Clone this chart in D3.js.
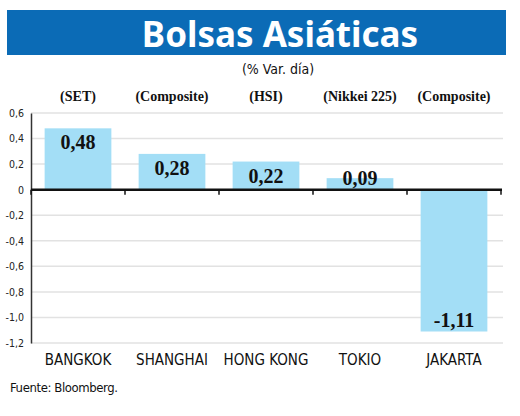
<!DOCTYPE html>
<html>
<head>
<meta charset="utf-8">
<script src="https://cdn.jsdelivr.net/npm/d3@7"></script>
<style>
  body { margin: 0; background: #fff; }
  svg { display: block; }
</style>
</head>
<body>
<div id="wrapper"></div>
<script>
// data
const cities = ["BANGKOK", "SHANGHAI", "HONG KONG", "TOKIO", "JAKARTA"];
const indexNames = ["(SET)", "(Composite)", "(HSI)", "(Nikkei 225)", "(Composite)"];
const changes = [0.48, 0.28, 0.22, 0.09, -1.11];
const yTicks = [0.6, 0.4, 0.2, 0, -0.2, -0.4, -0.6, -0.8, -1.0, -1.2];

const width = 520;
const height = 416;
const margin = { top: 113, right: 19, bottom: 73, left: 31 };
const boundedWidth = width - margin.left - margin.right;
const boundedHeight = height - margin.top - margin.bottom;

const svg = d3.select("#wrapper").append("svg")
  .attr("width", width)
  .attr("height", height);

// title banner
svg.append("rect")
  .attr("x", 7).attr("y", 10)
  .attr("width", 499).attr("height", 45)
  .attr("fill", "#0b6bb6");
svg.append("text")
  .attr("x", 280).attr("y", 47)
  .attr("text-anchor", "middle")
  .attr("fill", "#fff")
  .style("font-family", "'Noto Sans', sans-serif")
  .style("font-weight", "bold")
  .style("font-size", "35px")
  .text("Bolsas Asiáticas");
svg.append("text")
  .attr("x", 278).attr("y", 74)
  .attr("text-anchor", "middle")
  .attr("fill", "#111")
  .style("font-family", "'DejaVu Sans', sans-serif")
  .style("font-stretch", "condensed")
  .style("font-size", "14px")
  .text("(% Var. día)");

const bounds = svg.append("g")
  .attr("transform", `translate(${margin.left},${margin.top})`);

// scales
const xScale = d3.scaleBand()
  .domain(cities)
  .range([0, boundedWidth])
  .paddingInner(0.29)
  .paddingOuter(0.145);

const yScale = d3.scaleLinear()
  .domain([-1.2, 0.6])
  .range([boundedHeight, 0]);

const fmt = v => d3.format(".2f")(v).replace(".", ",").replace("−", "-");
const tickFmt = v => v === 0 ? "0" : d3.format(".1f")(v).replace(".", ",").replace("−", "-");

// gridlines
bounds.append("g")
  .selectAll("line")
  .data(yTicks.filter(d => d !== 0))
  .join("line")
  .attr("x1", 0).attr("x2", boundedWidth + 2)
  .attr("y1", d => yScale(d)).attr("y2", d => yScale(d))
  .attr("stroke", "#e2e2e2")
  .attr("stroke-width", 1.5);

// y axis
const yAxis = bounds.append("g")
  .call(d3.axisLeft(yScale).tickValues(yTicks).tickSize(0).tickPadding(7).tickFormat(tickFmt));
yAxis.select(".domain").attr("stroke", "#333").attr("stroke-width", 1.5);
yAxis.selectAll("text")
  .attr("fill", "#222")
  .style("font-family", "'DejaVu Sans', sans-serif")
  .style("font-stretch", "condensed")
  .style("font-size", "10.5px");

// bars
bounds.append("g")
  .selectAll("rect")
  .data(changes)
  .join("rect")
  .attr("x", (d, i) => xScale(cities[i]))
  .attr("y", d => yScale(Math.max(0, d)))
  .attr("width", xScale.bandwidth())
  .attr("height", d => Math.abs(yScale(d) - yScale(0)))
  .attr("fill", "#a3def6");

// zero axis with ticks at category boundaries
const zeroAxis = bounds.append("g")
  .attr("transform", `translate(0,${yScale(0)})`);
zeroAxis.append("line")
  .attr("x1", 0).attr("x2", boundedWidth + 1)
  .attr("stroke", "#111").attr("stroke-width", 2.5);
const step = xScale.step();
zeroAxis.selectAll(".tk")
  .data(d3.range(cities.length + 1))
  .join("line")
  .attr("class", "tk")
  .attr("x1", i => i * step).attr("x2", i => i * step)
  .attr("y1", 0).attr("y2", 5)
  .attr("stroke", "#111").attr("stroke-width", 1.5);

// value labels
bounds.append("g")
  .selectAll("text")
  .data(changes)
  .join("text")
  .attr("x", (d, i) => xScale(cities[i]) + xScale.bandwidth() / 2)
  .attr("y", d => d >= 0 ? Math.min(yScale(d) + 21, yScale(0) - 5) : yScale(d) - 5)
  .attr("text-anchor", "middle")
  .attr("fill", "#111")
  .style("font-family", "'Liberation Serif', serif")
  .style("font-weight", "bold")
  .style("font-size", "20px")
  .text(fmt);

// index names on top
svg.append("g")
  .selectAll("text")
  .data(indexNames)
  .join("text")
  .attr("x", (d, i) => margin.left + xScale(cities[i]) + xScale.bandwidth() / 2)
  .attr("y", 101)
  .attr("text-anchor", "middle")
  .attr("fill", "#111")
  .style("font-family", "'Liberation Sans Narrow', 'Liberation Serif', serif")
  .style("font-weight", "bold")
  .style("font-size", "14px")
  .text(d => d);

// category labels
svg.append("g")
  .selectAll("text")
  .data(cities)
  .join("text")
  .attr("x", d => margin.left + xScale(d) + xScale.bandwidth() / 2)
  .attr("y", 365)
  .attr("text-anchor", "middle")
  .attr("fill", "#111")
  .style("font-family", "'DejaVu Sans', sans-serif")
  .style("font-stretch", "condensed")
  .style("font-size", "15px")
  .text(d => d);

// source
svg.append("text")
  .attr("x", 10).attr("y", 392)
  .attr("fill", "#111")
  .style("font-family", "'DejaVu Sans', sans-serif")
  .style("font-stretch", "condensed")
  .style("font-size", "13px")
  .style("letter-spacing", "-0.4px")
  .text("Fuente: Bloomberg.");
</script>
</body>
</html>
